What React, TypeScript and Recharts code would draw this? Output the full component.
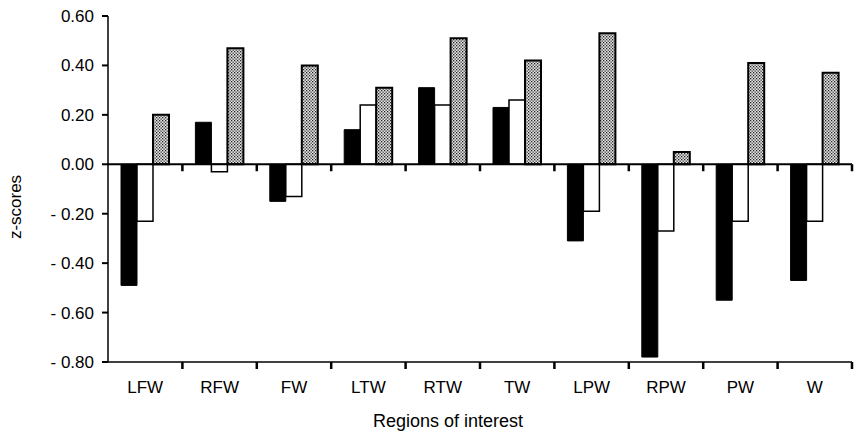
import React from "react";
import { BarChart, Bar, XAxis, YAxis, ReferenceLine } from "recharts";

// Regions along the x axis
const CATEGORIES = ["LFW", "RFW", "FW", "LTW", "RTW", "TW", "LPW", "RPW", "PW", "W"];

// three groups per region
const BLACK_VALUES = [-0.49, 0.17, -0.15, 0.14, 0.31, 0.23, -0.31, -0.78, -0.55, -0.47];
const WHITE_VALUES = [-0.23, -0.03, -0.13, 0.24, 0.24, 0.26, -0.19, -0.27, -0.23, -0.23];
const DOTTED_VALUES = [0.2, 0.47, 0.4, 0.31, 0.51, 0.42, 0.53, 0.05, 0.41, 0.37];

const Y_TICKS = [0.6, 0.4, 0.2, 0, -0.2, -0.4, -0.6, -0.8];

const data = CATEGORIES.map((region, i) => ({
  region,
  black: BLACK_VALUES[i],
  white: WHITE_VALUES[i],
  dotted: DOTTED_VALUES[i],
}));

const FONT = "'Liberation Sans', Arial, sans-serif";

const formatY = (v: number) => (v < 0 ? `- ${Math.abs(v).toFixed(2)}` : v.toFixed(2));

// category label in the middle, tick mark on the right-hand boundary of each band
const XTick = (props: any) => {
  const { x, y, payload } = props;
  const half = payload && payload.offset ? payload.offset : 37.2;
  return (
    <g>
      <line x1={x + half} y1={y - 8} x2={x + half} y2={y - 1} stroke="#000" strokeWidth={2.5} />
      <text x={x} y={y + 23} textAnchor="middle" fontSize={17} fontFamily={FONT} fill="#000">
        {payload.value}
      </text>
    </g>
  );
};

// zero line with small ticks hanging under it at the band boundaries
const renderZeroLine = (props: any) => {
  const x1 = Number(props.x1);
  const x2 = Number(props.x2);
  const y = Number(props.y1);
  const step = (x2 - x1) / CATEGORIES.length;
  const ticks = CATEGORIES.map((c, i) => x1 + step * (i + 1));
  return (
    <g className="zero-line">
      <path d={`M${x1},${y}H${x2}`} stroke="#000" strokeWidth={2} fill="none" />
      <path d={ticks.map((tx) => `M${tx},${y}v7`).join("")} stroke="#000" strokeWidth={2.5} fill="none" />
    </g>
  );
};

export default function App() {
  return (
    <div style={{ position: "absolute", left: 0, top: 0, background: "#fff" }}>
      <BarChart
        width={855}
        height={434}
        data={data}
        margin={{ top: 16, right: 3, bottom: 42, left: 0 }}
        barSize={16}
        barGap={0}
      >
        <defs>
          <pattern id="stipple" width="3" height="3" patternUnits="userSpaceOnUse">
            <rect width="3" height="3" fill="#e4e4e4" />
            <rect x="0" y="0" width="1.3" height="1.3" fill="#222" />
            <rect x="1.5" y="1.5" width="1.3" height="1.3" fill="#333" />
          </pattern>
        </defs>
        <XAxis
          dataKey="region"
          height={30}
          interval={0}
          tickLine={false}
          axisLine={{ stroke: "#000", strokeWidth: 1.5 }}
          tick={<XTick />}
          label={{
            content: () => (
              <text x={448} y={427} textAnchor="middle" fontSize={18} fontFamily={FONT} fill="#000">
                Regions of interest
              </text>
            ),
          }}
        />
        <YAxis
          width={108}
          domain={[-0.8, 0.6]}
          ticks={Y_TICKS}
          interval={0}
          tickFormatter={formatY}
          tickSize={6}
          tickMargin={8}
          tick={{ fill: "#000", fontSize: 17, fontFamily: FONT }}
          tickLine={{ stroke: "#000", strokeWidth: 2 }}
          axisLine={{ stroke: "#000", strokeWidth: 1.5 }}
          label={{
            content: () => (
              <text
                x={21}
                y={207}
                transform="rotate(-90, 21, 207)"
                textAnchor="middle"
                fontSize={17}
                fontFamily={FONT}
                fill="#000"
              >
                z-scores
              </text>
            ),
          }}
        />
        <Bar dataKey="black" fill="#000" stroke="#000" strokeWidth={1} isAnimationActive={false} />
        <Bar dataKey="white" fill="#fff" stroke="#000" strokeWidth={1.5} isAnimationActive={false} />
        <Bar dataKey="dotted" fill="url(#stipple)" stroke="#000" strokeWidth={2} isAnimationActive={false} />
        <ReferenceLine y={0} stroke="#000" strokeWidth={2} ifOverflow="visible" shape={renderZeroLine} />
      </BarChart>
    </div>
  );
}
